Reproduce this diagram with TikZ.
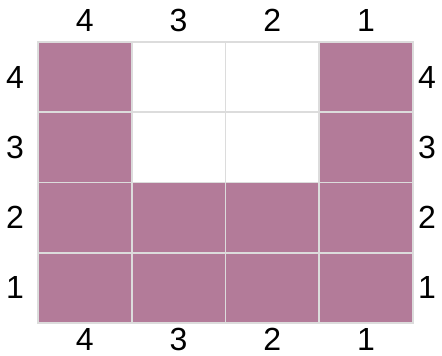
\documentclass[tikz,border=0pt]{standalone}
\usepackage{fontspec}
\setmainfont{Liberation Sans}
\definecolor{mauve}{RGB}{179,123,153}
\definecolor{gridgray}{RGB}{220,220,220}
\begin{document}
\begin{tikzpicture}[x=1pt,y=-1pt,
  cell/.style={draw=gridgray,line width=1.8pt,minimum width=93.75pt,minimum height=70.25pt,inner sep=0pt,anchor=center},
  full/.style={cell,fill=mauve},
  empty/.style={cell,fill=white},
  lab/.style={font=\fontsize{32}{32}\selectfont,inner sep=0pt}]
\useasboundingbox (0,0) rectangle (442,356);
\foreach \c/\l in {1/4,2/3,3/2,4/1}{
  \foreach \r/\m in {1/4,2/3,3/2,4/1}{
    \pgfmathsetmacro\cx{38+93.75*(\c-0.5)}
    \pgfmathsetmacro\cy{42+70.25*(\r-0.5)}
    \ifnum\c>1 \ifnum\c<4 \ifnum\r<3
      \node[empty] (c\c\r) at (\cx,\cy) {};
    \else
      \node[full] (c\c\r) at (\cx,\cy) {};
    \fi \else
      \node[full] (c\c\r) at (\cx,\cy) {};
    \fi \else
      \node[full] (c\c\r) at (\cx,\cy) {};
    \fi
  }
}
\foreach \c/\l in {1/4,2/3,3/2,4/1}{
  \pgfmathsetmacro\cx{38+93.75*(\c-0.5)}
  \node[lab] (t\c) at (\cx,20) {\l};
  \node[lab] (b\c) at (\cx,339) {\l};
}
\foreach \r/\m in {1/4,2/3,3/2,4/1}{
  \pgfmathsetmacro\cy{42+70.25*(\r-0.5)}
  \node[lab] (l\r) at (15,\cy) {\m};
  \node[lab] (r\r) at (427,\cy) {\m};
}
\end{tikzpicture}
\end{document}
